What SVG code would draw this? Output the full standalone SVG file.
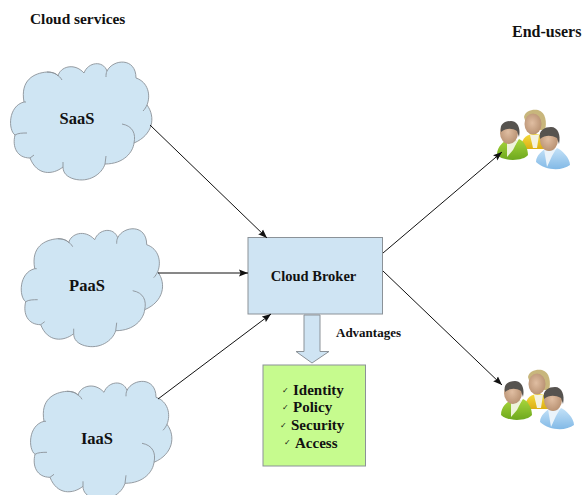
<svg xmlns="http://www.w3.org/2000/svg" width="584" height="495" viewBox="0 0 584 495">
<style>
text{font-family:"Liberation Serif","Times New Roman",serif;font-weight:bold;fill:#111}
.cloud{fill:#cfe5f3;stroke:#8b9298;stroke-width:.9}
.stub{fill:none;stroke:#8b9298;stroke-width:.9}
.conn{fill:none;stroke:#111;stroke-width:1;marker-end:url(#ah)}
.lbl{font-size:16.500px;text-anchor:middle}
.adv{font-size:15px}
.chk{font-family:"DejaVu Sans",sans-serif;font-size:8px}
</style>
<defs>
<marker id="ah" markerUnits="userSpaceOnUse" markerWidth="10" markerHeight="8" refX="9" refY="4" orient="auto"><path d="M0 .6L9 4L0 7.400L1.500 4Z" fill="#111"/></marker>
<filter id="soft" x="-10%" y="-10%" width="120%" height="120%"><feGaussianBlur stdDeviation=".6"/></filter>
<linearGradient id="gG" x1="0" y1="0" x2="0" y2="1"><stop offset="0" stop-color="#a9d63c"/><stop offset="1" stop-color="#6da81e"/></linearGradient>
<linearGradient id="gY" x1="0" y1="0" x2="0" y2="1"><stop offset="0" stop-color="#f5dc3c"/><stop offset="1" stop-color="#dcae14"/></linearGradient>
<linearGradient id="gB" x1="0" y1="0" x2="0" y2="1"><stop offset="0" stop-color="#c4e2f8"/><stop offset="1" stop-color="#82b9e6"/></linearGradient>
<radialGradient id="gS" cx=".45" cy=".45" r=".7"><stop offset="0" stop-color="#e0bea2"/><stop offset="1" stop-color="#b08868"/></radialGradient>
<g id="cl">
<path class="cloud" d="M24 62C20 40 34 33 47 32C52 32 56 33 58 36C60 27 74 22 84 33C88 22 103 20 107 31C113 19 136 17 136 38C148 42 151 55 147 65C156 77 153 95 134 103C133 112 124 124 105 124C102 134 89 143 74 139C67 137 63 133 63 127C53 135 37 136 30 118C17 118 12 107 15 95C8 90 8 66 24 62Z"/>
<path class="stub" d="M47 32C54 32 59 35 62 40M107 31C106 33 106 35 106 37M147 65C146 67 145 69 143 71M134 103C136 94 133 86 122 84M105 124L106 116M63 127L63 122M30 118C31 117 33 116 34 115M15 95C18 93 23 93 27 93M24 62L26 62"/>
</g>
<g id="ppl" filter="url(#soft)">
<path d="M40 27C41 21 48 19 54 20C62 22 63 33 61 40L44 40Z" fill="#c8b67c"/>
<path d="M37 57C38 47 44 44 50 44C58 44 66 48 66 56L60 59H38Z" fill="url(#gY)"/>
<path d="M46 45L49 58H53L55 45Z" fill="#f4f2e0"/>
<ellipse cx="49" cy="34" rx="8.500" ry="10.500" fill="url(#gS)"/>
<path d="M13 65C13 56 20 51 25 49L31 55L35 49C40 51 44 58 44 65C40 71 20 72 13 65Z" fill="url(#gG)"/>
<path d="M23 50L23 67L29 60L34 50Z" fill="#eef3da"/>
<ellipse cx="25" cy="43" rx="9" ry="11" fill="url(#gS)"/>
<path d="M17 42C15 33 22 31 27 31C33 31 37 37 35 47L33 41C28 38 22 38 17 42Z" fill="#56524f"/>
<path d="M52 72C52 65 59 60 63 58L68 64L73 58C78 60 86 68 86 75C78 81 62 81 52 72Z" fill="url(#gB)"/>
<path d="M60 59L63 77L68 66L72 59Z" fill="#eaf3fa"/>
<ellipse cx="65" cy="50" rx="9" ry="11" fill="url(#gS)"/>
<path d="M56 49C54 40 61 37 67 37C74 37 77 45 75 54L73 48C67 45 61 45 56 49Z" fill="#56524f"/>
</g>
</defs>
<rect width="584" height="495" fill="#fff"/>
<text x="30" y="24" font-size="15.400">Cloud services</text>
<text x="512" y="37" font-size="16">End-users</text>
<g id="saas"><use href="#cl" x="0" y="40"/><text class="lbl" x="77" y="124">SaaS</text></g>
<g id="paas"><use href="#cl" x="10.700" y="206.700"/><text class="lbl" x="87" y="291">PaaS</text></g>
<g id="iaas"><use href="#cl" x="20" y="359.300"/><text class="lbl" x="97" y="444">IaaS</text></g>
<g id="broker"><rect x="248" y="237.500" width="134.500" height="76.500" fill="#cfe4f3" stroke="#8b9298"/><text x="313.500" y="281" font-size="14.500" text-anchor="middle">Cloud Broker</text></g>
<g id="advantages-arrow"><path d="M304 315H320V351.500H329L312 363L296 351.500H304Z" fill="#cfe4f3" stroke="#8b9298"/></g>
<text x="336" y="337" font-size="13">Advantages</text>
<g id="advantages">
<rect x="263" y="365" width="102.500" height="101" fill="#c6fb8e" stroke="#8b9298"/>
<text class="chk" x="282" y="393">✓</text><text class="adv" x="293" y="395">Identity</text>
<text class="chk" x="282" y="410">✓</text><text class="adv" x="293" y="412">Policy</text>
<text class="chk" x="280" y="428">✓</text><text class="adv" x="291" y="430">Security</text>
<text class="chk" x="284" y="445">✓</text><text class="adv" x="295" y="448">Access</text>
</g>
<g id="users-top"><use href="#ppl" x="484" y="90"/></g>
<g id="users-bottom"><use href="#ppl" x="488" y="350"/></g>
<g id="connectors">
<line class="conn" x1="150" y1="125" x2="267" y2="238"/>
<line class="conn" x1="158" y1="273" x2="248" y2="273"/>
<line class="conn" x1="158" y1="399" x2="271" y2="314"/>
<line class="conn" x1="383" y1="253" x2="502" y2="152"/>
<line class="conn" x1="383" y1="271" x2="502" y2="385"/>
</g>
</svg>
